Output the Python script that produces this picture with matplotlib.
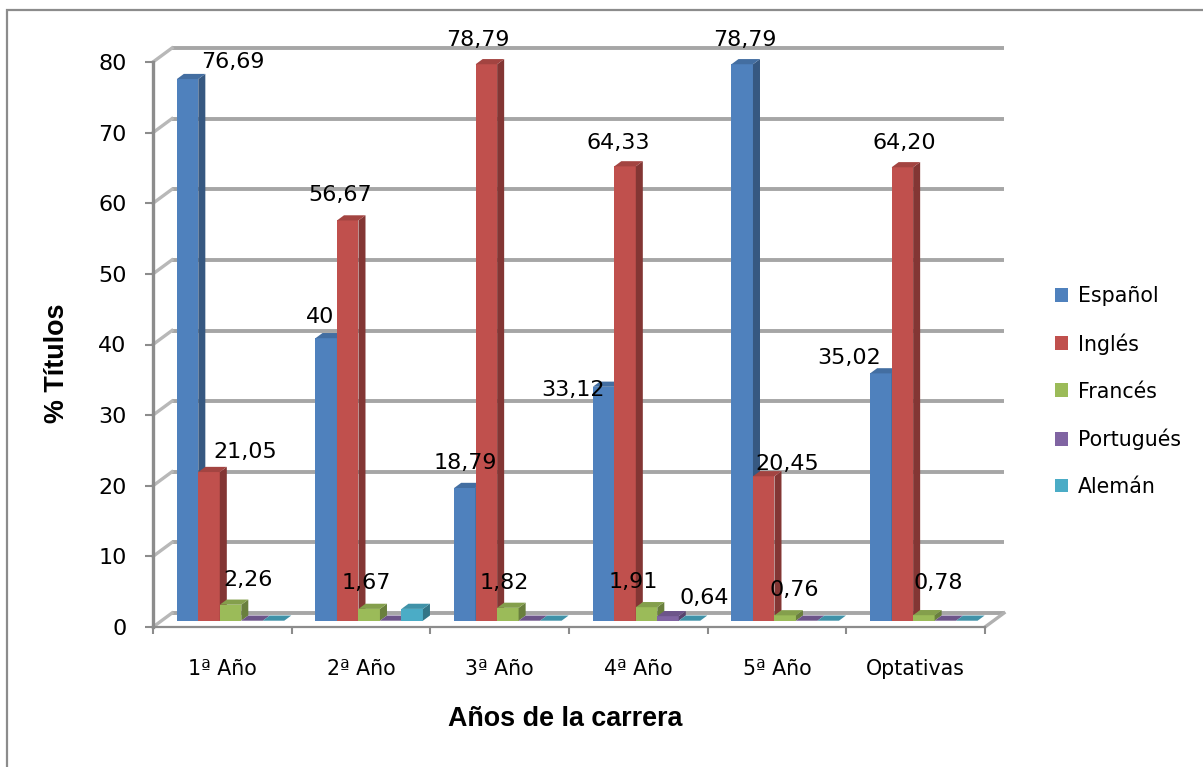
import matplotlib
matplotlib.use('Agg')
import matplotlib.pyplot as plt
from matplotlib.patches import Polygon, Patch, Rectangle
from matplotlib.colors import to_rgb
import numpy as np

# ****************************** data ************************************* #
categories = ['1ª Año', '2ª Año', '3ª Año', '4ª Año', '5ª Año', 'Optativas']
series = ['Español', 'Inglés', 'Francés', 'Portugués', 'Alemán']

espanol = [76.69, 40.00, 18.79, 33.12, 78.79, 35.02]
ingles = [21.05, 56.67, 78.79, 64.33, 20.45, 64.20]
frances = [2.26, 1.67, 1.82, 1.91, 0.76, 0.78]
portugues = [0.0, 0.0, 0.0, 0.64, 0.0, 0.0]
aleman = [0.0, 1.67, 0.0, 0.0, 0.0, 0.0]

yticks = [0, 10, 20, 30, 40, 50, 60, 70, 80]
# ************************************************************************* #

values = [espanol, ingles, frances, portugues, aleman]
colors = ['#4F81BD', '#C0504D', '#9BBB59', '#8064A2', '#4BACC6']

# label nudges in pixels (dx, dy) relative to the default spot above each bar
label_nudge = [
    [(45, -5), (-6, -1), (0, 3), (-31, -25), (3, 2), (-32, -7)],
    [(36, -2), (-8, 3), (-9, 2), (-7, 1), (24, -10), (2, 2)],
    [(18, 3), (-3, 4), (-4, 3), (-13, 3), (9, 3), (14, 10)],
    [(0, 0), (0, 0), (0, 0), (36, -4), (0, 0), (0, 0)],
    [(0, 0), (0, 0), (0, 0), (0, 0), (0, 0), (0, 0)],
]

W, H, DPI = 1203, 767, 100
fig = plt.figure(figsize=(W / DPI, H / DPI), dpi=DPI)

# front plane of the 3D box, in figure pixels
x0_px, x1_px = 153, 985
y0_px, y1_px = 627, 62
ax = fig.add_axes([x0_px / W, (H - y0_px) / H,
                   (x1_px - x0_px) / W, (y0_px - y1_px) / H])
ax.set_xlim(0, len(categories))
ax.set_ylim(0, 80)
ax.patch.set_alpha(0)

px_x = (x1_px - x0_px) / len(categories)   # pixels per category
px_y = (y0_px - y1_px) / 80.0              # pixels per unit

# depth of the box (back wall offset) in data units
DX = 19 / px_x
DY = 14 / px_y

grid_col = '#a6a6a6'
axis_col = '#8c8c8c'

# back wall gridlines and side wall diagonals
for v in yticks:
    ax.plot([DX, len(categories) + DX], [v + DY, v + DY], color=grid_col,
            lw=2.8, solid_capstyle='butt', zorder=1, clip_on=False)
    ax.plot([0, DX], [v, v + DY], color='#b8b8b8', lw=2.4,
            zorder=1, clip_on=False)
# right edge of the floor
ax.plot([len(categories), len(categories) + DX], [0, DY], color='#b0b0b0',
        lw=2.4, zorder=1, clip_on=False)


def shade(c, k):
    r, g, b = to_rgb(c)
    return (r * k, g * k, b * k)


# bars sit in the middle of the box depth
f0 = 0.45                   # depth of the front face
fd = 0.37                   # bar thickness (fraction of box depth)
bw = 0.155                  # bar width
start = 0.11
for i in range(len(categories)):
    for j, vals in enumerate(values):
        v = vals[i]
        xl = i + start + j * bw + f0 * DX
        xr = xl + bw
        yb = f0 * DY
        yt = yb + v
        ox, oy = fd * DX, fd * DY
        c = colors[j]
        z = 3 + i * 10 + j
        if v > 0:
            ax.add_patch(Polygon([(xl, yb), (xr, yb), (xr, yt), (xl, yt)],
                                 closed=True, fc=c, ec='none', zorder=z,
                                 clip_on=False))
            ax.add_patch(Polygon([(xr, yb), (xr + ox, yb + oy),
                                  (xr + ox, yt + oy), (xr, yt)],
                                 closed=True, fc=shade(c, 0.68), ec='none',
                                 zorder=z, clip_on=False))
        ax.add_patch(Polygon([(xl, yt), (xr, yt), (xr + ox, yt + oy),
                              (xl + ox, yt + oy)],
                             closed=True, fc=shade(c, 0.85), ec='none',
                             zorder=z, clip_on=False))

        if v > 0 and series[j] != 'Alemán':
            ndx, ndy = label_nudge[j][i]
            lx = (xl + xr) / 2 + ndx / px_x
            ly = yt + (22 + ndy) / px_y
            txt = ('%.2f' % v).replace('.', ',')
            if txt.endswith(',00'):
                txt = txt[:-3]
            ax.text(lx, ly, txt, ha='center', va='center', fontsize=16,
                    family='DejaVu Sans', zorder=100, clip_on=False)

# axes, ticks and labels
for s in ['top', 'right']:
    ax.spines[s].set_visible(False)
ax.spines['left'].set_color(axis_col)
ax.spines['left'].set_linewidth(2.4)
ax.spines['bottom'].set_color(axis_col)
ax.spines['bottom'].set_linewidth(1.6)

ax.set_yticks(yticks)
ax.set_yticklabels([str(t) for t in yticks])
ax.tick_params(axis='y', length=6, width=1.5, color=axis_col, pad=13,
               labelsize=16)

ax.set_xticks(np.arange(len(categories) + 1))
ax.set_xticklabels([])
ax.set_xticks(np.arange(len(categories)) + 0.5, minor=True)
ax.set_xticklabels(categories, minor=True)
ax.tick_params(axis='x', which='major', length=5, width=1.5, color=axis_col)
ax.tick_params(axis='x', which='minor', length=0, pad=23, labelsize=14.8)

fig.text(57 / W, 1 - 363 / H, '% Títulos', rotation=90, ha='center',
         va='center', fontsize=19.4, fontweight='bold',
         family='Liberation Sans')
fig.text(565 / W, 1 - 719 / H, 'Años de la carrera', ha='center',
         va='center', fontsize=19.4, fontweight='bold',
         family='Liberation Sans')

handles = [Patch(facecolor=c, edgecolor='none') for c in colors]
fig.legend(handles, series, loc='center left',
           bbox_to_anchor=(1055 / W, 1 - 391.5 / H), frameon=False,
           fontsize=14.8, handlelength=0.65, handleheight=0.65,
           handletextpad=0.45, labelspacing=1.31, borderpad=0,
           borderaxespad=0)

# chart border
fig.patches.append(Rectangle((7 / W, -0.05), 1.1, 1 - 10 / H + 0.05,
                             transform=fig.transFigure, fill=False,
                             ec='#8c8c8c', lw=1.6))

fig.savefig('out.png', dpi=DPI)
